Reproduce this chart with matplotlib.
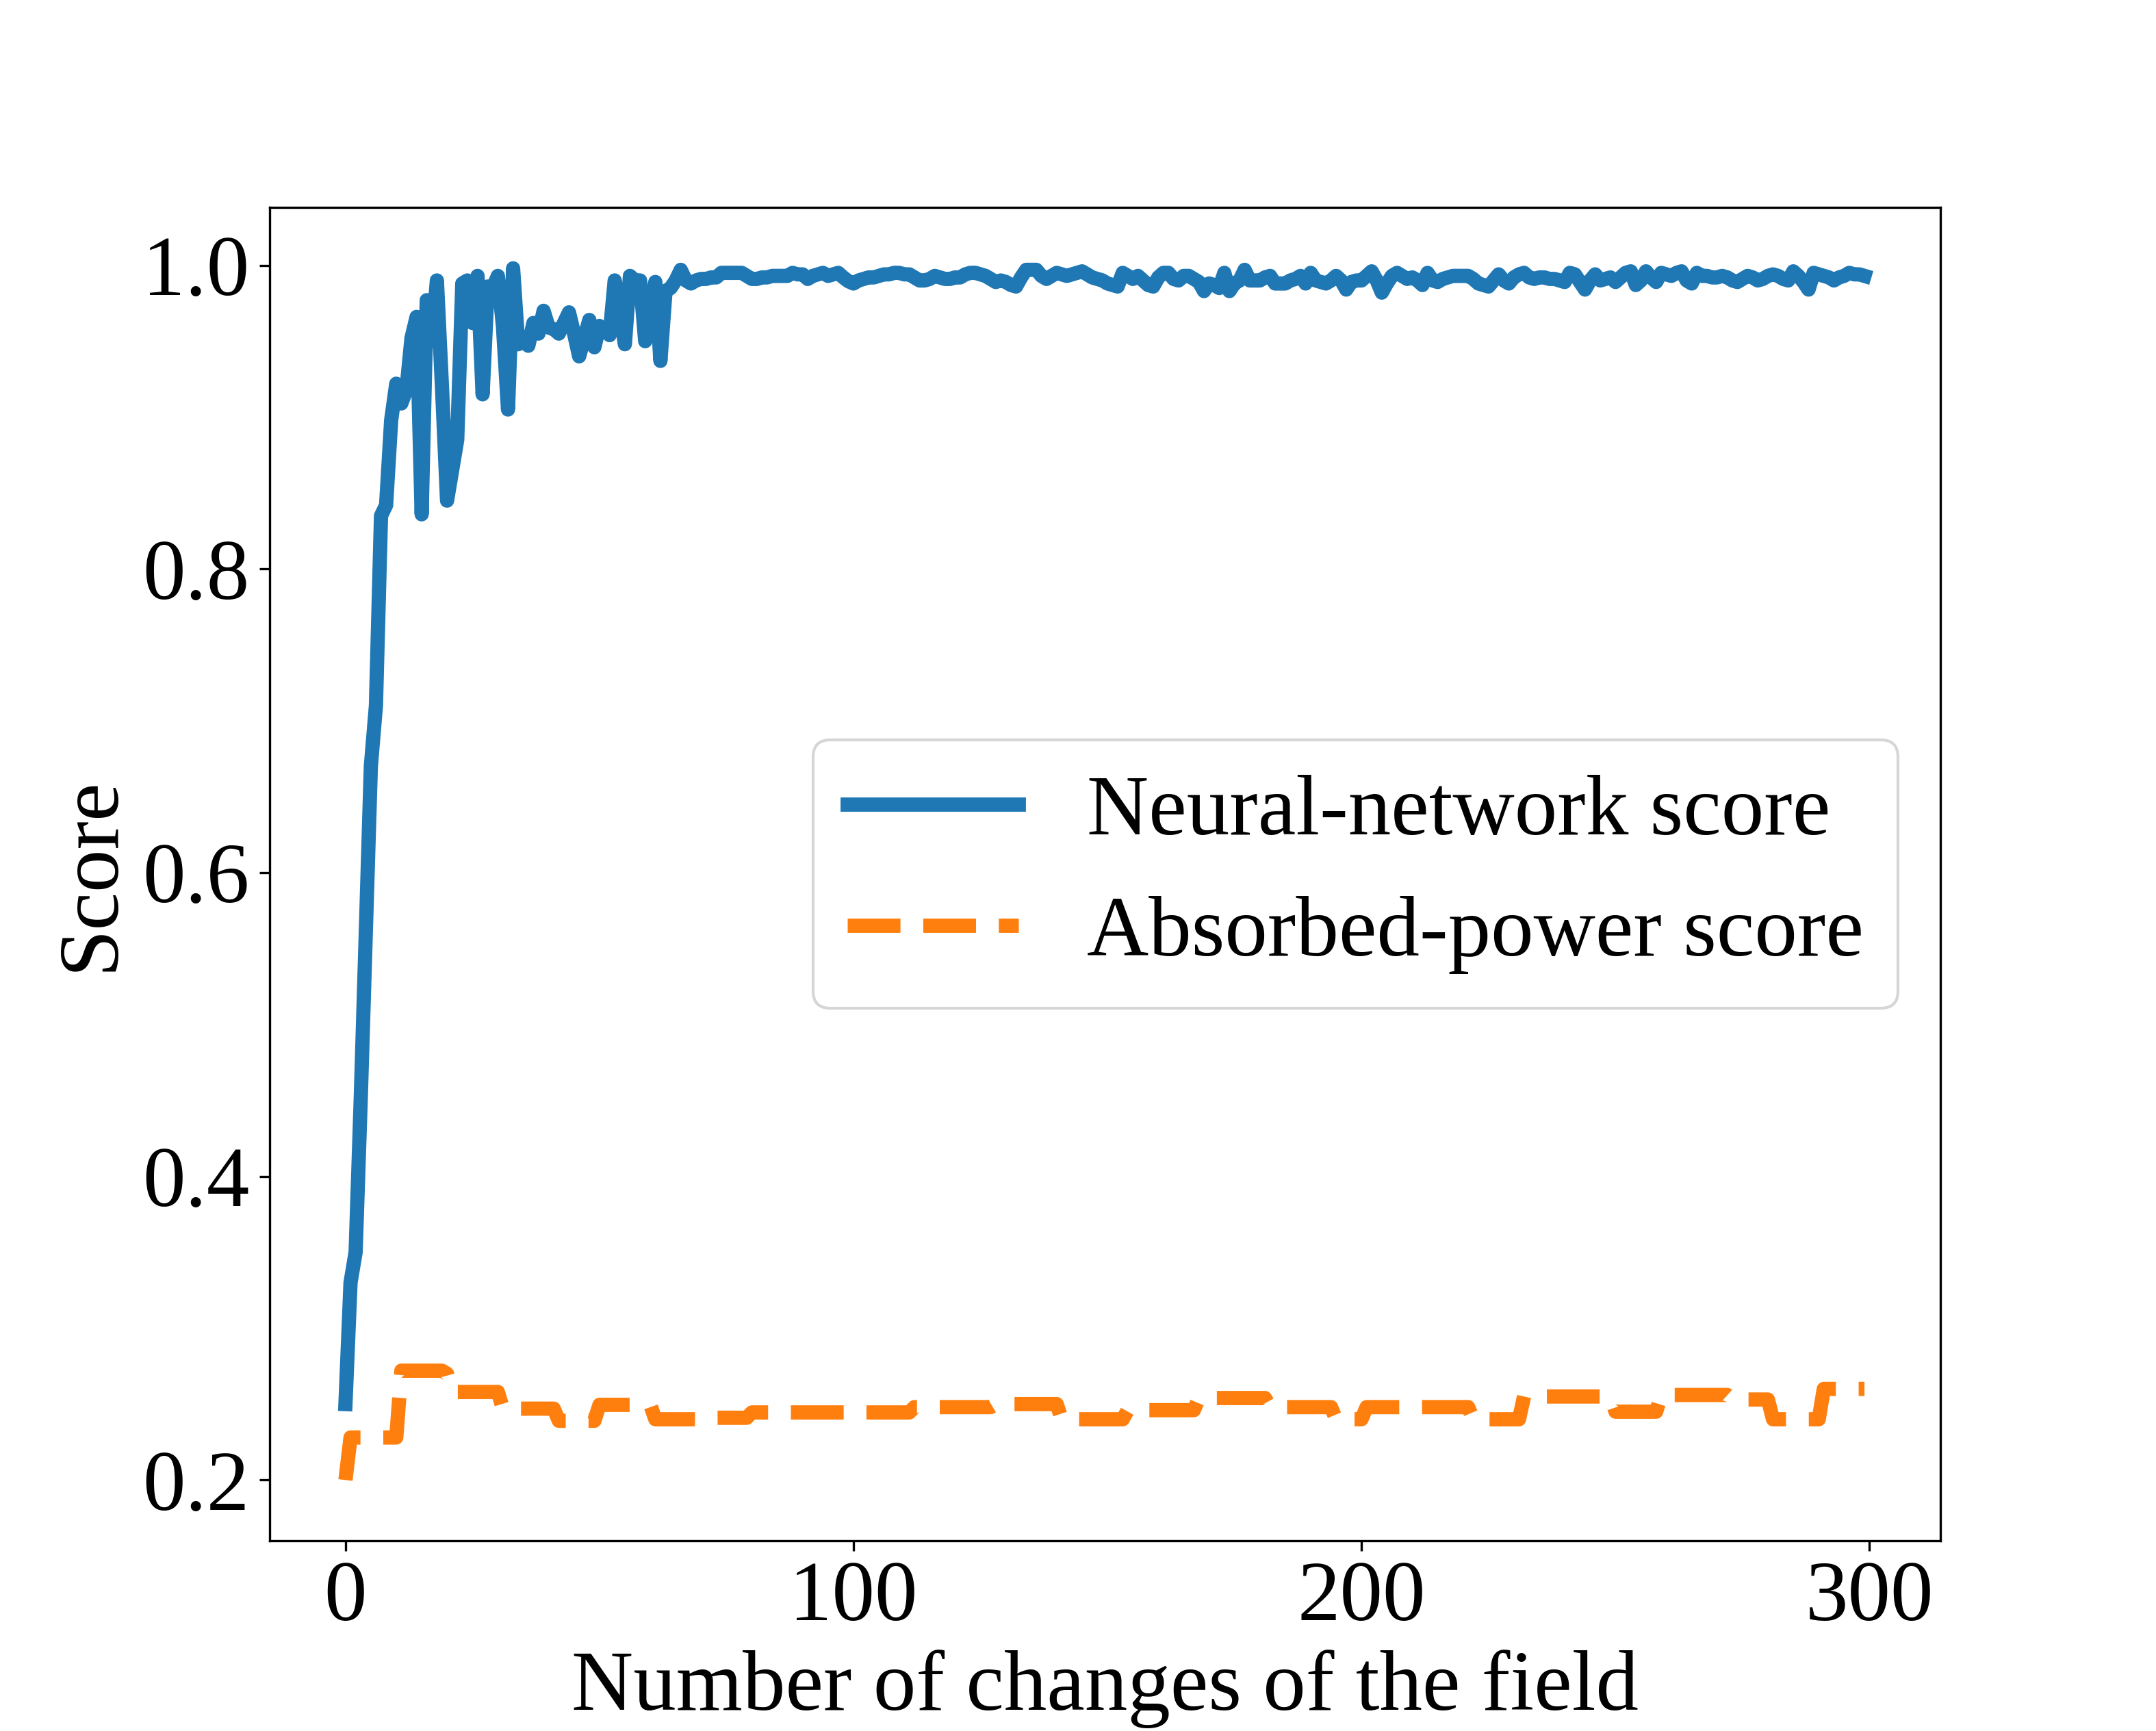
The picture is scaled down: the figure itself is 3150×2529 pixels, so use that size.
import numpy as np
import matplotlib
matplotlib.use("Agg")
import matplotlib.pyplot as plt

# Neural-network score, one value per field change
nn_score = [
    0.250, 0.330, 0.350, 0.450, 0.560, 0.670, 0.710, 0.835, 0.842, 0.898,
    0.922, 0.909, 0.918, 0.952, 0.966, 0.836, 0.977, 0.950, 0.990, 0.920,
    0.845, 0.865, 0.885, 0.988, 0.990, 0.962, 0.993, 0.915, 0.986, 0.985,
    0.993, 0.960, 0.905, 0.998, 0.948, 0.950, 0.947, 0.962, 0.955, 0.970,
    0.959, 0.958, 0.955, 0.962, 0.969, 0.955, 0.940, 0.952, 0.964, 0.946,
    0.960, 0.957, 0.954, 0.990, 0.970, 0.948, 0.993, 0.990, 0.990, 0.950,
    0.970, 0.989, 0.937, 0.983, 0.985, 0.990, 0.997, 0.990, 0.988, 0.990,
    0.991, 0.991, 0.992, 0.992, 0.995, 0.995, 0.995, 0.995, 0.995, 0.993, 0.991,
    0.991, 0.992, 0.992, 0.993, 0.993, 0.993, 0.993, 0.995, 0.994, 0.994,
    0.991, 0.993, 0.994, 0.995, 0.993, 0.994, 0.995, 0.992, 0.9895, 0.988,
    0.990, 0.991, 0.992, 0.992, 0.993, 0.994, 0.994, 0.995, 0.995, 0.994,
    0.994, 0.992, 0.990, 0.990, 0.991, 0.993, 0.992, 0.991, 0.991, 0.992,
    0.992, 0.994, 0.995, 0.995, 0.994, 0.993, 0.991, 0.989, 0.990, 0.989,
    0.987, 0.986, 0.992, 0.997, 0.997, 0.997, 0.993, 0.991, 0.993, 0.995,
    0.994, 0.993, 0.994, 0.995, 0.996, 0.994, 0.992, 0.991, 0.990, 0.988, 0.987,
    0.986, 0.995, 0.993, 0.991, 0.993, 0.990, 0.987, 0.986, 0.992, 0.995,
    0.995, 0.991, 0.990, 0.993, 0.993, 0.991, 0.989, 0.983, 0.988, 0.987,
    0.985, 0.995, 0.983, 0.988, 0.990, 0.997, 0.990, 0.990, 0.990, 0.992,
    0.993, 0.988, 0.988, 0.988, 0.990, 0.991, 0.993, 0.988, 0.995, 0.990,
    0.989, 0.988, 0.990, 0.993, 0.990, 0.984, 0.989, 0.990, 0.990, 0.993,
    0.996, 0.990, 0.982, 0.988, 0.993, 0.995, 0.993, 0.991, 0.992, 0.990,
    0.987, 0.995, 0.990, 0.989, 0.991, 0.992, 0.993, 0.993, 0.993, 0.993,
    0.991, 0.988, 0.987, 0.986, 0.990, 0.994, 0.990, 0.988, 0.992, 0.994, 0.995,
    0.992, 0.991, 0.992, 0.992, 0.991, 0.991, 0.990, 0.989, 0.995, 0.994,
    0.989, 0.984, 0.990, 0.994, 0.990, 0.991, 0.992, 0.989, 0.992, 0.995,
    0.996, 0.987, 0.990, 0.996, 0.992, 0.989, 0.995, 0.994, 0.993, 0.995,
    0.996, 0.990, 0.988, 0.995, 0.993, 0.993, 0.992, 0.992, 0.993, 0.992,
    0.990, 0.989, 0.991, 0.993, 0.992, 0.990, 0.991, 0.993, 0.994, 0.993,
    0.991, 0.990, 0.996, 0.993, 0.989, 0.984, 0.995, 0.994, 0.993, 0.992,
    0.990, 0.992, 0.993, 0.995, 0.994, 0.994, 0.993,
]

# Absorbed-power score (step-like)
ap_score = [
    0.200, 0.228, 0.228, 0.228, 0.228, 0.228, 0.228, 0.228, 0.228, 0.228,
    0.228, 0.272, 0.272, 0.272, 0.272, 0.272, 0.272, 0.272, 0.272, 0.272,
    0.270, 0.258, 0.258, 0.258, 0.258, 0.258, 0.258, 0.258, 0.258, 0.258,
    0.258, 0.247, 0.247, 0.247, 0.247, 0.247, 0.247, 0.247, 0.247, 0.247,
    0.247, 0.247, 0.239, 0.239, 0.239, 0.239, 0.239, 0.239, 0.239, 0.239,
    0.2495, 0.2495, 0.2495, 0.2495, 0.2495, 0.2495, 0.2495, 0.2495, 0.2495, 0.2495,
    0.2495, 0.240, 0.240, 0.240, 0.240, 0.240, 0.240, 0.240, 0.240, 0.240,
    0.240, 0.241, 0.241, 0.241, 0.241, 0.241, 0.241, 0.241, 0.241, 0.241,
    0.2445, 0.2445, 0.2445, 0.2445, 0.2445, 0.2445, 0.2445, 0.2445, 0.2445, 0.2445,
    0.2445, 0.2445, 0.2445, 0.2445, 0.2445, 0.2445, 0.2445, 0.2445, 0.2445, 0.2445,
    0.2445, 0.2445, 0.2445, 0.2445, 0.2445, 0.2445, 0.2445, 0.2445, 0.2445, 0.2445,
    0.2445, 0.2445, 0.248, 0.248, 0.248, 0.248, 0.248, 0.248, 0.248, 0.248,
    0.248, 0.248, 0.248, 0.248, 0.248, 0.248, 0.248, 0.248, 0.250, 0.250,
    0.250, 0.250, 0.250, 0.250, 0.250, 0.250, 0.250, 0.250, 0.250, 0.250,
    0.250, 0.240, 0.240, 0.240, 0.240, 0.240, 0.240, 0.240, 0.240, 0.240,
    0.240, 0.240, 0.240, 0.240, 0.246, 0.246, 0.246, 0.246, 0.246, 0.246,
    0.246, 0.246, 0.246, 0.246, 0.246, 0.246, 0.246, 0.246, 0.254, 0.254,
    0.254, 0.254, 0.254, 0.254, 0.254, 0.254, 0.254, 0.254, 0.254, 0.254,
    0.254, 0.254, 0.248, 0.248, 0.248, 0.248, 0.248, 0.248, 0.248, 0.248,
    0.248, 0.248, 0.248, 0.248, 0.248, 0.240, 0.240, 0.240, 0.240, 0.240,
    0.240, 0.248, 0.248, 0.248, 0.248, 0.248, 0.248, 0.248, 0.248, 0.248,
    0.248, 0.248, 0.248, 0.248, 0.248, 0.248, 0.248, 0.248, 0.248, 0.248,
    0.248, 0.248, 0.240, 0.240, 0.240, 0.240, 0.240, 0.240, 0.240, 0.240,
    0.240, 0.240, 0.255, 0.255, 0.255, 0.255, 0.255, 0.255, 0.255, 0.255,
    0.255, 0.255, 0.255, 0.255, 0.255, 0.255, 0.255, 0.255, 0.255, 0.255,
    0.245, 0.245, 0.245, 0.245, 0.245, 0.245, 0.245, 0.245, 0.245, 0.256,
    0.256, 0.256, 0.256, 0.256, 0.256, 0.256, 0.256, 0.256, 0.256, 0.256,
    0.256, 0.256, 0.256, 0.253, 0.253, 0.253, 0.253, 0.253, 0.253, 0.253,
    0.253, 0.240, 0.240, 0.240, 0.240, 0.240, 0.240, 0.240, 0.240, 0.240,
    0.240, 0.260, 0.260, 0.260, 0.260, 0.260, 0.260, 0.260, 0.260, 0.260,
]

steps = np.arange(len(nn_score))

plt.rcParams['font.family'] = ['Liberation Serif', 'DejaVu Serif']
plt.rcParams['font.size'] = 30

fig, ax = plt.subplots(figsize=(10.5, 8.43), dpi=300)

ax.plot(steps, nn_score, '-', linewidth=5, color='tab:blue', label='Neural-network score')
ax.plot(steps, ap_score, '--', linewidth=5, color='tab:orange', label='Absorbed-power score')

ax.set_xlabel("Number of changes of the field")
ax.set_ylabel("Score")
ax.set_xticks([0, 100, 200, 300])
ax.set_yticks([0.2, 0.4, 0.6, 0.8, 1.0])
ax.legend(loc='center right')

fig.savefig("out.png", dpi=300)
